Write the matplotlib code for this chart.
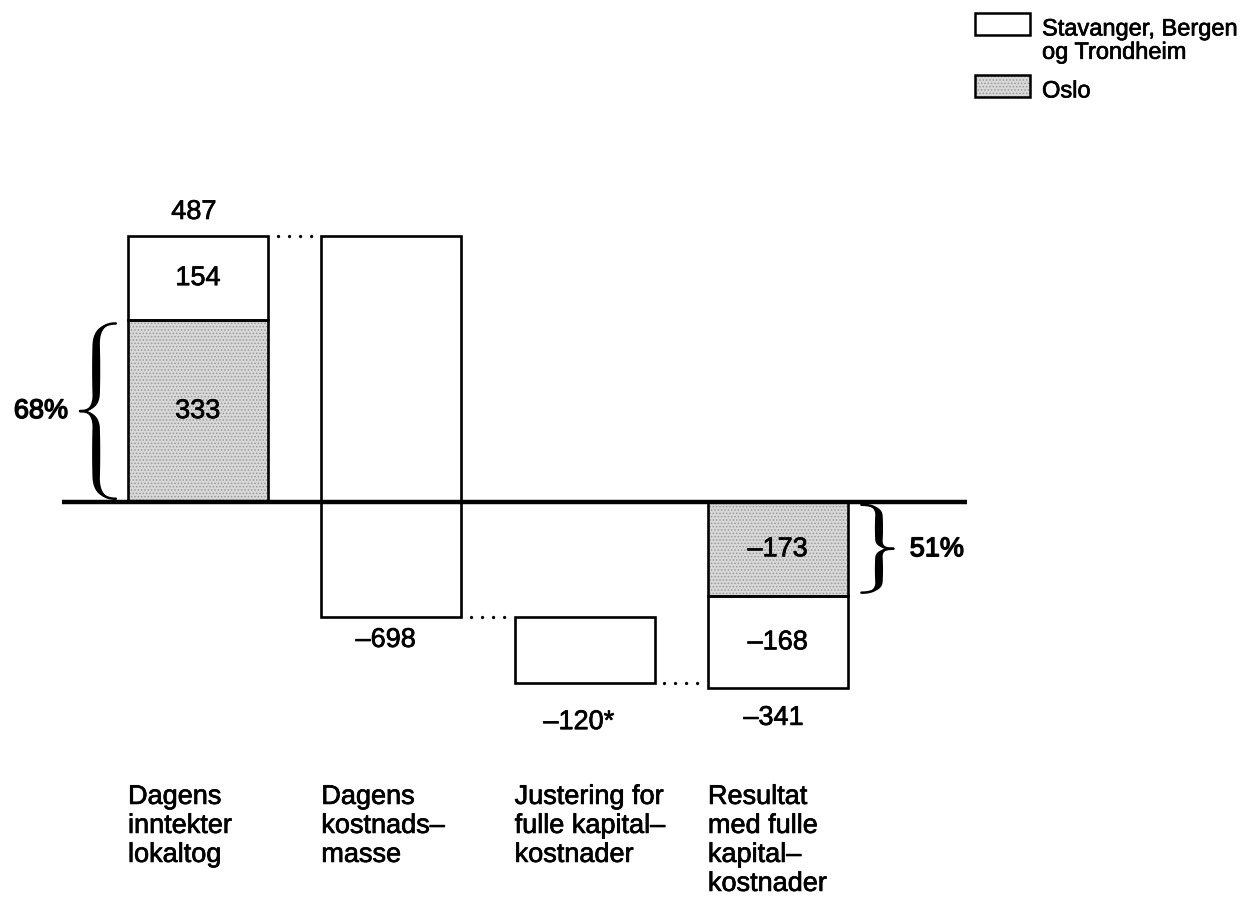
import numpy as np
import matplotlib.pyplot as plt
import matplotlib.patheffects as pe

plt.rcParams['font.family'] = ['Liberation Sans', 'DejaVu Sans']
plt.rcParams['hatch.linewidth'] = 0.7

# Lokaltog: inntekter, kostnader og resultat (mill. kr)
categories = ["Dagens\ninntekter\nlokaltog",
              "Dagens\nkostnads–\nmasse",
              "Justering for\nfulle kapital–\nkostnader",
              "Resultat\nmed fulle\nkapital–\nkostnader"]
series_names = ["Stavanger, Bergen\nog Trondheim", "Oslo"]
oslo_inntekt = 333
andre_inntekt = 154
kostnader = -698
justering = -120
oslo_resultat = -173
andre_resultat = -168
resultat = -341


def fmt(v):
    return str(v).replace("-", "–")


def brace(ax, x_tip, x_arm, y_a, y_b, thick):
    # one half of a curly brace, from the arm end to the tip, in unit coords
    def qb(p0, p1, p2, n=40):
        t = np.linspace(0, 1, n)[:, None]
        return (1 - t) ** 2 * np.array(p0) + 2 * (1 - t) * t * np.array(p1) + t ** 2 * np.array(p2)
    a = qb([1, 1], [0.45, 1], [0.45, 0.75])
    b = np.linspace([0.45, 0.75], [0.45, 0.2], 40)
    c = qb([0.45, 0.2], [0.45, 0], [0, 0])
    half = np.vstack([a, b[1:], c[1:]])
    s = np.linspace(0, 1, len(half))
    wid = thick * np.sin(np.pi * s) ** 0.6
    y_mid = (y_a + y_b) / 2
    for sign in (1, -1):
        x = x_tip + half[:, 0] * (x_arm - x_tip)
        y = y_mid + sign * half[:, 1] * (y_b - y_a) / 2
        xs = np.concatenate([x - wid / 2, (x + wid / 2)[::-1]])
        ys = np.concatenate([y, y[::-1]])
        ax.fill(xs, ys, color='black', lw=0, zorder=5)
        ax.plot(x, y, color='black', lw=1.8, solid_capstyle='round', zorder=5)


inntekt = oslo_inntekt + andre_inntekt
etter_kostnad = inntekt + kostnader
etter_justering = etter_kostnad + justering

fig = plt.figure(figsize=(12.46, 8.99), dpi=100)
ax = fig.add_axes([0, 0, 1, 1])
ax.set_xlim(-1.0243, 5.4216)
ax.set_ylim(-727, 919.4)
ax.axis('off')

pos = np.arange(len(categories))
w = 0.724
grey = dict(facecolor='#d8d8d8', edgecolor='#999999', hatch='.....', linewidth=0, zorder=2)
white = dict(facecolor='white', edgecolor='black', linewidth=1.9, zorder=2)
outline = dict(facecolor='none', edgecolor='black', linewidth=1.9, zorder=3)

# income bar: Oslo at the bottom, the other three cities on top
ax.bar(pos[0], oslo_inntekt, w, **grey)
ax.bar(pos[0], oslo_inntekt, w, **outline)
ax.bar(pos[0], andre_inntekt, w, bottom=oslo_inntekt, **white)
# cost and capital adjustment hang down from the running total
ax.bar(pos[1], kostnader, w, bottom=inntekt, **white)
ax.bar(pos[2], justering, w, bottom=etter_kostnad, **white)
# result bar
ax.bar(pos[3], oslo_resultat, w, **grey)
ax.bar(pos[3], oslo_resultat, w, **outline)
ax.bar(pos[3], andre_resultat, w, bottom=oslo_resultat, **white)

# zero line
ax.plot([pos[0] - 0.704, pos[3] + 0.98], [0, 0], color='black', lw=3.2,
        solid_capstyle='butt', zorder=4)

# dotted connectors between the steps
for i, level in enumerate([inntekt, etter_kostnad, etter_justering]):
    ax.plot([pos[i] + w / 2 + 0.05, pos[i + 1] - w / 2], [level, level],
            color='black', lw=2.4, linestyle=(0, (0.01, 3.3)),
            dash_capstyle='round', zorder=1)

fs = 19.5
heavy = [pe.withStroke(linewidth=0.5, foreground='black')]
bold = [pe.withStroke(linewidth=1.0, foreground='black')]
txt = dict(fontsize=fs, path_effects=heavy)
# value labels
ax.annotate(fmt(inntekt), (pos[0], inntekt), xytext=(-3, 8), textcoords='offset points',
            ha='center', va='bottom', **txt)
ax.text(pos[0], oslo_inntekt + andre_inntekt / 2, fmt(andre_inntekt), ha='center',
        va='center', **txt)
ax.text(pos[0], oslo_inntekt / 2, fmt(oslo_inntekt), ha='center', va='center', **txt)
ax.annotate(fmt(kostnader), (pos[1], etter_kostnad), xytext=(-4, -7), textcoords='offset points',
            ha='center', va='top', **txt)
ax.annotate(fmt(justering) + "*", (pos[2], etter_justering), xytext=(-4, -19),
            textcoords='offset points', ha='center', va='top', **txt)
ax.text(pos[3], oslo_resultat / 2, fmt(oslo_resultat), ha='center', va='center', **txt)
ax.text(pos[3], oslo_resultat + andre_resultat / 2, fmt(andre_resultat), ha='center',
        va='center', **txt)
ax.annotate(fmt(resultat), (pos[3], resultat), xytext=(-3, -12), textcoords='offset points',
            ha='center', va='top', **txt)

# Oslo's share of income and of the deficit
brace(ax, pos[0] - 0.61, pos[0] - 0.425, 6, oslo_inntekt - 6, 0.042)
ax.text(pos[0] - 0.812, oslo_inntekt / 2, f"{oslo_inntekt / inntekt:.0%}", ha='center',
        va='center', fontsize=fs, path_effects=bold)
brace(ax, pos[3] + 0.597, pos[3] + 0.432, -5, oslo_resultat + 7, 0.042)
ax.text(pos[3] + 0.823, oslo_resultat / 2, f"{oslo_resultat / resultat:.0%}", ha='center',
        va='center', fontsize=fs, path_effects=bold)

# category labels below the chart
for p, lab in zip(pos, categories):
    ax.text(p - w / 2, 0.128, lab, transform=ax.get_xaxis_transform(), ha='left',
            va='top', linespacing=1.15, **txt)

# legend
for (y0, name, fc, hatch) in [(0.961, series_names[0], 'white', None),
                              (0.892, series_names[1], '#d8d8d8', '.....')]:
    if hatch:
        ax.add_patch(plt.Rectangle((0.7825, y0), 0.0441, 0.0245, transform=ax.transAxes,
                                   facecolor=fc, edgecolor='#999999', hatch=hatch, lw=0))
    ax.add_patch(plt.Rectangle((0.7825, y0), 0.0441, 0.0245, transform=ax.transAxes,
                               facecolor='none' if hatch else fc, edgecolor='black', lw=1.8))
    ax.text(0.8363, y0 + 0.0245 - 0.006, name, transform=ax.transAxes, ha='left', va='top',
            fontsize=17, linespacing=1.08, path_effects=heavy)

fig.savefig("out.png", dpi=100)
